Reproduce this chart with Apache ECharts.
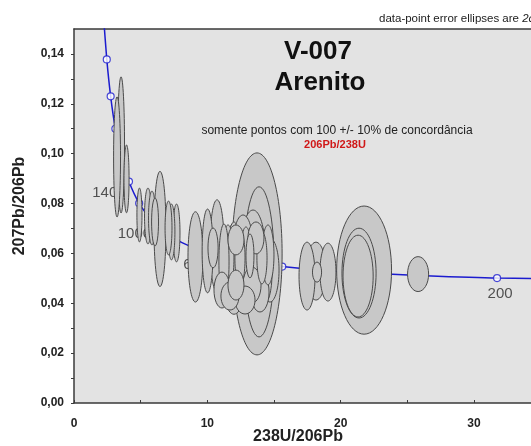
<!DOCTYPE html>
<html>
<head>
<meta charset="utf-8">
<script src="https://cdn.jsdelivr.net/npm/echarts@6/dist/echarts.min.js"></script>
<style>
  html, body { margin: 0; padding: 0; background: #ffffff; }
  #chart { width: 531px; height: 446px; }
</style>
</head>
<body>
<div id="chart"></div>
<script>
// Tera-Wasserburg concordia vertices (age in Ma, 238U/206Pb, 207Pb/206Pb)
const curveAge = [2400, 2200, 2000, 1800, 1600, 1400, 1200, 1000, 900, 800, 700, 600, 500, 400, 300, 200, 100];
const curveX   = [2.217, 2.459, 2.749, 3.104, 3.550, 4.123, 4.887, 5.959, 6.675, 7.568, 8.718, 10.252, 12.399, 15.620, 20.992, 31.735, 63.97];
const curveY   = [0.1548, 0.1378, 0.1230, 0.1100, 0.0987, 0.0888, 0.0801, 0.0725, 0.0691, 0.0658, 0.0628, 0.0599, 0.0572, 0.0547, 0.0523, 0.0501, 0.0480];

// Age ticks on the concordia and the ones that carry a label
const markerAge   = [2200, 2000, 1800, 1600, 1400, 1200, 1000, 800, 600, 400, 200];
const labelledAge = [1400, 1000, 600, 200];

// Analyses: ellipse centre and 2-sigma half-axes
const ellX  = [3.53, 3.23, 3.94, 4.91, 5.55, 5.85, 6.08, 6.45, 7.09, 7.31, 7.69,
               9.11, 10.02, 10.73, 10.43,
               13.73, 13.88, 13.43,
               11.55, 12.00, 12.45, 12.90, 13.20, 13.65, 14.10, 12.15, 13.35, 14.25, 12.68, 11.25, 14.55, 11.70, 12.00, 14.70,
               11.10, 12.83, 13.95, 12.15, 13.65,
               17.48, 18.15, 19.05, 18.23,
               21.76, 21.38, 21.31, 25.81];
const ellY  = [0.1035, 0.0987, 0.0899, 0.0754, 0.0750, 0.0742, 0.0726, 0.0698, 0.0702, 0.0686, 0.0682,
               0.0586, 0.0610, 0.0630, 0.0622,
               0.0598, 0.0566, 0.0614,
               0.0582, 0.0566, 0.0582, 0.0566, 0.0590, 0.0574, 0.0582, 0.0473, 0.0473, 0.0517, 0.0654, 0.0566, 0.0594, 0.0429, 0.0536, 0.0533,
               0.0453, 0.0413, 0.0445, 0.0654, 0.0662,
               0.0509, 0.0529, 0.0525, 0.0525,
               0.0533, 0.0521, 0.0509, 0.0517];
const ellSX = [0.26, 0.26, 0.19, 0.19, 0.26, 0.26, 0.26, 0.45, 0.26, 0.26, 0.26,
               0.56, 0.41, 0.53, 0.38,
               1.88, 1.13, 0.90,
               0.45, 0.53, 0.38, 0.45, 0.30, 0.45, 0.38, 0.60, 0.68, 0.60, 0.68, 0.38, 0.45, 0.68, 0.98, 0.68,
               0.60, 0.75, 0.68, 0.60, 0.60,
               0.60, 0.75, 0.60, 0.34,
               2.06, 1.28, 1.13, 0.79];
const ellSY = [0.0273, 0.0241, 0.0136, 0.0108, 0.0112, 0.0108, 0.0096, 0.0231, 0.0108, 0.0112, 0.0116,
               0.0181, 0.0168, 0.0185, 0.0080,
               0.0405, 0.0301, 0.0160,
               0.0132, 0.0160, 0.0112, 0.0140, 0.0088, 0.0120, 0.0104, 0.0060, 0.0072, 0.0120, 0.0100, 0.0152, 0.0120, 0.0056, 0.0180, 0.0128,
               0.0072, 0.0056, 0.0080, 0.0060, 0.0064,
               0.0136, 0.0116, 0.0116, 0.0040,
               0.0257, 0.0180, 0.0164, 0.0070];

const FONT = '"Liberation Sans", Arial, sans-serif';
const BLUE = '#1c1ccf';

// where each age label sits relative to its tick
const ageLabelOffset = { 1400: [-20, 11], 1000: [-19, 12], 600: [-15, 11], 200: [3, 16] };

const curveData = curveX.map((x, i) => [x, curveY[i]]);
const markerData = markerAge.map(a => {
  const i = curveAge.indexOf(a);
  const labelled = labelledAge.includes(a);
  return {
    value: [curveX[i], curveY[i]],
    name: String(a),
    label: labelled ? { show: true, offset: ageLabelOffset[a] } : { show: false }
  };
});

// big ellipses first so the small ones stay visible on top
const ellData = ellX.map((x, i) => [x, ellY[i], ellSX[i], ellSY[i]])
  .sort((a, b) => b[2] * b[3] - a[2] * a[3]);

const chart = echarts.init(document.getElementById('chart'), null, { renderer: 'canvas' });

chart.setOption({
  animation: false,
  backgroundColor: '#ffffff',
  grid: {
    left: 74, right: 0, top: 29, bottom: 43,
    show: true, backgroundColor: '#e3e3e3', borderWidth: 0
  },
  xAxis: [{
    type: 'value', min: 0, max: 34.28, interval: 5,
    splitLine: { show: false },
    axisLine: { show: true, onZero: false, lineStyle: { color: '#3a3a3a', width: 1.5 } },
    axisTick: { show: true, inside: true, length: 3, lineStyle: { color: '#3a3a3a' } },
    axisLabel: {
      margin: 15, color: '#222', fontFamily: FONT, fontWeight: 'bold', fontSize: 12,
      showMaxLabel: false,
      formatter: v => (Math.round(v) % 10 === 0 ? String(Math.round(v)) : '')
    }
  }, {
    type: 'value', position: 'top', min: 0, max: 34.28,
    splitLine: { show: false },
    axisLine: { show: true, onZero: false, lineStyle: { color: '#3a3a3a', width: 1.5 } },
    axisTick: { show: false }, axisLabel: { show: false }
  }],
  yAxis: {
    type: 'value', min: 0, max: 0.15, interval: 0.01,
    splitLine: { show: false },
    axisLine: { show: true, onZero: false, lineStyle: { color: '#3a3a3a', width: 1.5 } },
    axisTick: { show: true, inside: false, length: 3, lineStyle: { color: '#3a3a3a' } },
    axisLabel: {
      margin: 10, color: '#222', fontFamily: FONT, fontWeight: 'bold', fontSize: 12,
      showMaxLabel: false,
      formatter: v => {
        const k = Math.round(v * 100);
        return k % 2 === 0 && k <= 14 ? (k / 100).toFixed(2).replace('.', ',') : '';
      }
    }
  },
  series: [{
    type: 'line', name: 'concordia', data: curveData, z: 2,
    showSymbol: false, smooth: 0.2, clip: true,
    lineStyle: { color: BLUE, width: 1.5 }
  }, {
    type: 'scatter', name: 'ages', data: markerData, z: 3,
    symbol: 'circle', symbolSize: 7,
    itemStyle: { color: '#ffffff', borderColor: BLUE, borderWidth: 1.2 },
    label: {
      position: 'inside', formatter: p => p.name,
      color: '#2a2a2a', fontFamily: FONT, fontSize: 15
    }
  }, {
    type: 'custom', name: 'analyses', data: ellData, z: 5,
    renderItem: (params, api) => {
      const c = api.coord([api.value(0), api.value(1)]);
      const rx = api.size([api.value(2), 0])[0];
      const ry = api.size([0, api.value(3)])[1];
      return {
        type: 'ellipse',
        shape: { cx: c[0], cy: c[1], rx: rx, ry: ry },
        style: { fill: '#c8c8c8', stroke: '#4a4a4a', lineWidth: 1 }
      };
    }
  }],
  graphic: [
    { type: 'text', x: 318, y: 52, z: 10,
      style: { text: 'V-007', font: 'bold 26px ' + FONT, fill: '#111', align: 'center', verticalAlign: 'middle', textAlign: 'center', textVerticalAlign: 'middle' } },
    { type: 'text', x: 320, y: 83, z: 10,
      style: { text: 'Arenito', font: 'bold 26px ' + FONT, fill: '#111', align: 'center', verticalAlign: 'middle', textAlign: 'center', textVerticalAlign: 'middle' } },
    { type: 'text', x: 337, y: 131, z: 10,
      style: { text: 'somente pontos com 100 +/- 10% de concordância', font: '12px ' + FONT, fill: '#222', align: 'center', verticalAlign: 'middle', textAlign: 'center', textVerticalAlign: 'middle' } },
    { type: 'text', x: 335, y: 145, z: 10,
      style: { text: '206Pb/238U', font: 'bold 11px ' + FONT, fill: '#d01818', align: 'center', verticalAlign: 'middle', textAlign: 'center', textVerticalAlign: 'middle' } },
    { type: 'text', x: 379, y: 19, z: 10,
      style: { text: 'data-point error ellipses are {i|2σ}', font: '11.5px ' + FONT, fill: '#222', align: 'left', verticalAlign: 'middle', textAlign: 'left', textVerticalAlign: 'middle',
               rich: { i: { fontStyle: 'italic', fontSize: 11.5, fontFamily: FONT, fill: '#222' } } } },
    { type: 'text', x: 298, y: 437, z: 10,
      style: { text: '238U/206Pb', font: 'bold 16px ' + FONT, fill: '#222', align: 'center', verticalAlign: 'middle', textAlign: 'center', textVerticalAlign: 'middle' } },
    { type: 'text', x: 20, y: 206, rotation: Math.PI / 2, z: 10,
      style: { text: '207Pb/206Pb', font: 'bold 16px ' + FONT, fill: '#222', align: 'center', verticalAlign: 'middle', textAlign: 'center', textVerticalAlign: 'middle' } }
  ]
});
</script>
</body>
</html>
